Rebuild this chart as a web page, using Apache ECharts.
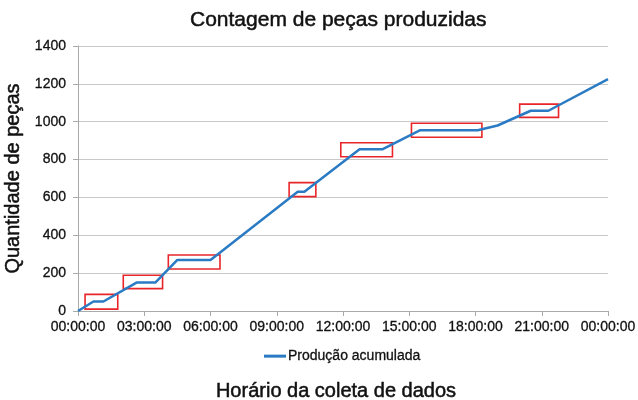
<!DOCTYPE html>
<html>
<head>
<meta charset="utf-8">
<script src="https://cdn.jsdelivr.net/npm/echarts@6/dist/echarts.min.js"></script>
<style>html,body{margin:0;padding:0;background:#fff}#c{width:638px;height:400px}</style>
</head>
<body>
<div id="c"></div>
<script>
// time in hours since 00:00
const hours = [0, 0.7, 1.15, 2.65, 3.5, 4.5, 6.0, 9.95, 10.25, 12.75, 13.8, 15.5, 18.1, 19.0, 20.5, 21.3, 24];
const producao = [0, 50, 50, 150, 150, 270, 270, 630, 630, 855, 855, 955, 955, 980, 1058, 1058, 1225];
const xTicks = ["00:00:00","03:00:00","06:00:00","09:00:00","12:00:00","15:00:00","18:00:00","21:00:00","00:00:00"];
const yTicks = ["0","200","400","600","800","1000","1200","1400"];
// highlighted regions: [startHour, endHour, lowValue, highValue]
const boxX0 = [0.32, 2.05, 4.09, 9.56, 11.9, 15.1, 20.0];
const boxX1 = [1.80, 3.83, 6.43, 10.77, 14.24, 18.29, 21.76];
const boxY0 = [10, 118, 222, 604, 815, 918, 1023];
const boxY1 = [88, 189, 296, 678, 889, 992, 1093];

const font = "'Liberation Sans', Arial, sans-serif";
const ink = '#111';
const heavy = {textBorderColor: ink, textBorderWidth: 0.5};
const chart = echarts.init(document.getElementById('c'));
const areas = boxX0.map((x0, i) => [{xAxis: x0, yAxis: boxY0[i]}, {xAxis: boxX1[i], yAxis: boxY1[i]}]);
chart.setOption({
  animation: false,
  title: {
    text: 'Contagem de peças produzidas',
    left: 185, top: 5,
    textStyle: Object.assign({fontFamily: font, fontSize: 21, fontWeight: 'normal', color: ink}, heavy)
  },
  legend: {
    data: ['Produção acumulada'],
    left: 259, top: 344,
    icon: 'rect', itemWidth: 22, itemHeight: 3, itemGap: 10,
    textStyle: Object.assign({fontFamily: font, fontSize: 14, color: ink, padding: [0,0,0,-3]}, {textBorderColor: ink, textBorderWidth: 0.3})
  },
  grid: {left: 78, right: 30, top: 46, bottom: 89, outerBoundsMode: 'none', containLabel: false},
  xAxis: {
    type: 'value', min: 0, max: 24, interval: 3,
    name: 'Horário da coleta de dados', nameLocation: 'middle', nameGap: 70,
    nameTextStyle: Object.assign({fontFamily: font, fontSize: 20, color: ink, padding: [0, 14, 0, 0]}, heavy),
    axisLine: {lineStyle: {color: '#aaa', width: 1}},
    axisTick: {show: true, length: 5, lineStyle: {color: '#aaa'}},
    splitLine: {show: false},
    axisLabel: {fontFamily: font, fontSize: 14, color: ink, margin: 9, textBorderColor: ink, textBorderWidth: 0.3,
      formatter: v => xTicks[Math.round(v / 3)]}
  },
  yAxis: {
    type: 'value', min: 0, max: 1400, interval: 200,
    name: 'Quantidade de peças', nameLocation: 'middle', nameGap: 52, nameRotate: 90,
    nameTextStyle: Object.assign({fontFamily: font, fontSize: 20, color: ink}, heavy),
    axisLine: {show: true, lineStyle: {color: '#aaa', width: 1}},
    axisTick: {show: true, length: 5, lineStyle: {color: '#aaa'}},
    splitLine: {lineStyle: {color: '#c8c8c8', width: 1}},
    axisLabel: {fontFamily: font, fontSize: 14, color: ink, margin: 12, textBorderColor: ink, textBorderWidth: 0.3,
      formatter: v => yTicks[Math.round(v / 200)]}
  },
  series: [{
    name: 'Produção acumulada',
    type: 'line',
    data: hours.map((h, i) => [h, producao[i]]),
    showSymbol: false, symbol: 'none',
    lineStyle: {color: '#2a7bc3', width: 2.5},
    itemStyle: {color: '#2a7bc3'},
    markArea: {
      silent: true,
      itemStyle: {color: 'rgba(0,0,0,0)', borderColor: '#e8262a', borderWidth: 1.6},
      data: areas
    }
  }]
});
</script>
</body>
</html>
